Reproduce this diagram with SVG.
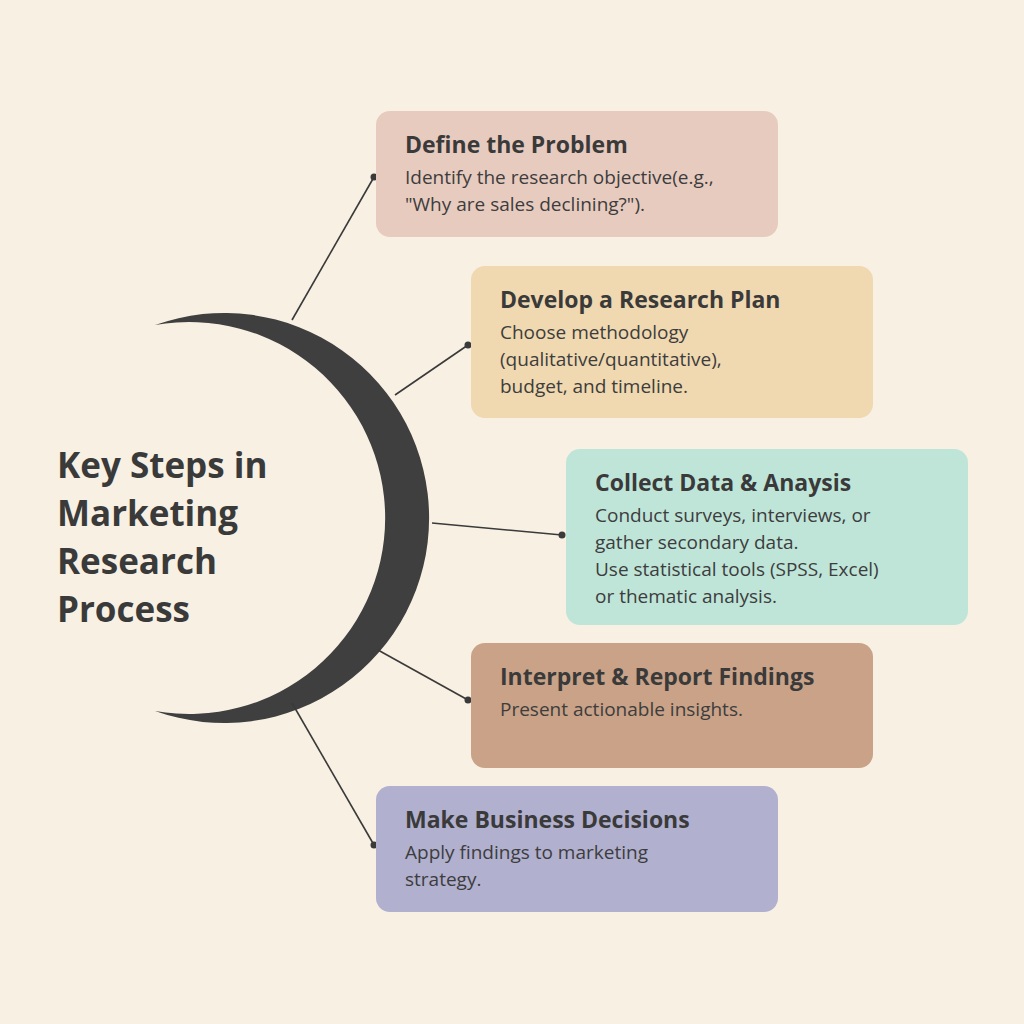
<svg xmlns="http://www.w3.org/2000/svg" width="1024" height="1024" viewBox="0 0 1024 1024">
<style>
.t{font-family:"Open Sans","Liberation Sans",sans-serif;font-weight:bold;font-size:23px;fill:#3a3a3a}
.b{font-family:"Open Sans","Liberation Sans",sans-serif;font-size:19px;fill:#3d3d3d}
.h{font-family:"Open Sans","Liberation Sans",sans-serif;font-weight:bold;font-size:35px;fill:#3a3a3a}
.c{stroke:#3a3a3a;stroke-width:1.6;fill:none}
</style>
<rect width="1024" height="1024" fill="#f7f0e3"/>
<path d="M155,325 A205,205 0 1 1 155,711 A196,196 0 1 0 155,325 Z" fill="#3f3f3f"/>
<g id="title"><text class="h" x="57" y="478">Key Steps in</text><text class="h" x="57" y="526">Marketing</text><text class="h" x="57" y="574">Research</text><text class="h" x="57" y="622">Process</text></g>
<g id="connectors">
<line class="c" x1="292" y1="320" x2="374" y2="177"/><circle cx="374" cy="177" r="3.5" fill="#3a3a3a"/>
<line class="c" x1="395" y1="395" x2="468" y2="345"/><circle cx="468" cy="345" r="3.5" fill="#3a3a3a"/>
<line class="c" x1="432" y1="523" x2="562" y2="535"/><circle cx="562" cy="535" r="3.5" fill="#3a3a3a"/>
<line class="c" x1="378" y1="650" x2="468" y2="700"/><circle cx="468" cy="700" r="3.5" fill="#3a3a3a"/>
<line class="c" x1="292" y1="703" x2="374" y2="845"/><circle cx="374" cy="845" r="3.5" fill="#3a3a3a"/>
</g>
<g id="n1"><rect x="376" y="111" width="402" height="126" rx="14" fill="#e8cbbf"/><text class="t" x="405" y="153">Define the Problem</text><text class="b" x="405" y="184">Identify the research objective(e.g.,</text><text class="b" x="405" y="211">"Why are sales declining?").</text></g>
<g id="n2"><rect x="471" y="266" width="402" height="152" rx="14" fill="#f0d8b0"/><text class="t" x="500" y="308">Develop a Research Plan</text><text class="b" x="500" y="339">Choose methodology</text><text class="b" x="500" y="366">(qualitative/quantitative),</text><text class="b" x="500" y="393">budget, and timeline.</text></g>
<g id="n3"><rect x="566" y="449" width="402" height="176" rx="14" fill="#bfe5d9"/><text class="t" x="595" y="491">Collect Data &amp; Anaysis</text><text class="b" x="595" y="522">Conduct surveys, interviews, or</text><text class="b" x="595" y="549">gather secondary data.</text><text class="b" x="595" y="576">Use statistical tools (SPSS, Excel)</text><text class="b" x="595" y="603">or thematic analysis.</text></g>
<g id="n4"><rect x="471" y="643" width="402" height="125" rx="14" fill="#c9a287"/><text class="t" x="500" y="685">Interpret &amp; Report Findings</text><text class="b" x="500" y="716">Present actionable insights.</text></g>
<g id="n5"><rect x="376" y="786" width="402" height="126" rx="14" fill="#b1b0cf"/><text class="t" x="405" y="828">Make Business Decisions</text><text class="b" x="405" y="859">Apply findings to marketing</text><text class="b" x="405" y="886">strategy.</text></g>
</svg>
